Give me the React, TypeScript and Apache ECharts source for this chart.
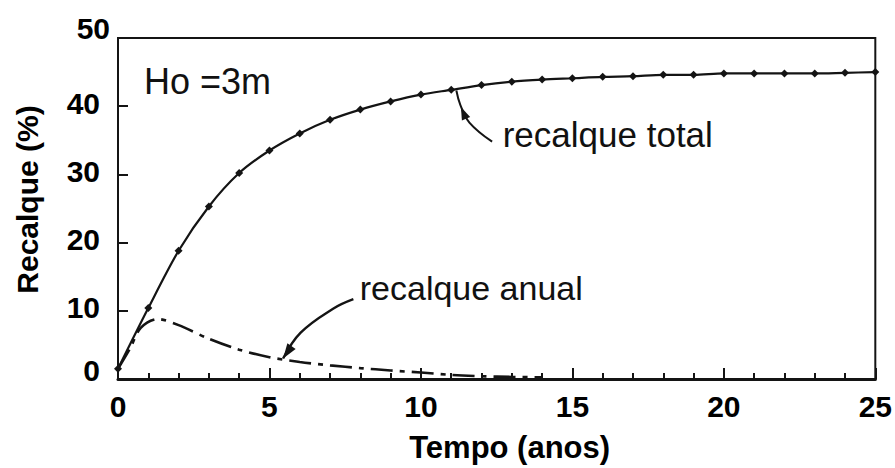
import React, { useEffect, useRef } from "react";
import * as echarts from "echarts";

// Settlement curves for Ho = 3 m
const years = [0, 1, 2, 3, 4, 5, 6, 7, 8, 9, 10, 11, 12, 13, 14, 15, 16, 17, 18, 19, 20, 21, 22, 23, 24, 25];
const recalqueTotal = [1.5, 10.4, 18.8, 25.3, 30.2, 33.5, 36, 38, 39.5, 40.7, 41.7, 42.4, 43.1, 43.6, 43.9, 44.1, 44.3, 44.4, 44.6, 44.6, 44.8, 44.8, 44.8, 44.8, 44.9, 45];

const anualYears = [0, 0.4, 0.75, 1.3, 2, 3, 4, 5, 6, 7, 8, 9, 10, 11, 12, 13, 14];
const recalqueAnual = [1.5, 4.5, 7.5, 8.8, 7.9, 5.9, 4.3, 3.2, 2.5, 2.0, 1.6, 1.25, 0.95, 0.6, 0.4, 0.3, 0.25];

const xMin = 0, xMax = 25, xStep = 5;
const yMin = 0, yMax = 50, yStep = 10;

// Callout leader lines (data coordinates), ending at the curves
const totalLeader = [[12.35, 34.8], [11.6, 37.6], [11.3, 40.2], [11.17, 42.3]];
const anualLeader = [[7.77, 11.7], [7.1, 10.3], [6.03, 6.8], [5.45, 3.0]];

const INK = "#141414";
const FONT = "'Liberation Sans', Arial, Helvetica, sans-serif";

export default function App() {
  const ref = useRef<HTMLDivElement>(null);

  useEffect(() => {
    if (!ref.current) return;
    const chart = echarts.init(ref.current, null, { renderer: "svg" });

    chart.setOption({
      animation: false,
      backgroundColor: "#ffffff",
      grid: {
        left: 118,
        right: 19,
        top: 38,
        bottom: 84,
        show: true,
        borderColor: INK,
        borderWidth: 2,
        backgroundColor: "#ffffff",
      },
      xAxis: {
        type: "value",
        min: xMin,
        max: xMax,
        interval: xStep,
        name: "Tempo (anos)",
        nameLocation: "middle",
        nameGap: 53,
        nameTextStyle: {
          fontFamily: FONT,
          fontSize: 31,
          fontWeight: "bold",
          color: "#000",
          padding: [0, 0, 0, 26],
        },
        axisLine: { show: true, lineStyle: { color: INK, width: 3 } },
        axisTick: { show: true, inside: true, length: 11, lineStyle: { color: INK, width: 2 } },
        minorTick: { show: true, splitNumber: 5, length: 6, lineStyle: { color: INK, width: 2 } },
        splitLine: { show: false },
        axisLabel: {
          fontFamily: FONT,
          fontSize: 30,
          fontWeight: "bold",
          color: "#000",
          margin: 12,
        },
      },
      yAxis: {
        type: "value",
        min: yMin,
        max: yMax,
        interval: yStep,
        name: "Recalque (%)",
        nameLocation: "middle",
        nameGap: 76,
        nameTextStyle: {
          fontFamily: FONT,
          fontSize: 30,
          fontWeight: "bold",
          color: "#000",
          padding: [0, 0, 0, 18],
        },
        axisLine: { show: true, lineStyle: { color: INK, width: 2 } },
        axisTick: { show: true, inside: true, length: 10, lineStyle: { color: INK, width: 2 } },
        splitLine: { show: false },
        axisLabel: {
          margin: 8,
          formatter: (v: number) =>
            v === yMax ? `{top|${v}}` : v === yMin ? `{bot|${v}}` : `{n|${v}}`,
          rich: {
            n: { fontFamily: FONT, fontSize: 30, fontWeight: "bold", color: "#000", padding: [0, 10, 6, 0] },
            top: { fontFamily: FONT, fontSize: 30, fontWeight: "bold", color: "#000", padding: [0, 0, 20, 0] },
            bot: { fontFamily: FONT, fontSize: 30, fontWeight: "bold", color: "#000", padding: [0, 10, 18, 0] },
          },
        },
      },
      series: [
        {
          name: "recalque total",
          type: "line",
          data: years.map((t, i) => [t, recalqueTotal[i]]),
          smooth: 0.3,
          symbol: "diamond",
          symbolSize: 8,
          showSymbol: true,
          itemStyle: { color: INK },
          lineStyle: { color: INK, width: 2.2 },
          z: 3,
        },
        {
          name: "recalque anual",
          type: "line",
          data: anualYears.map((t, i) => [t, recalqueAnual[i]]),
          smooth: 0.3,
          showSymbol: false,
          lineStyle: { color: INK, width: 2.6, type: [22, 7, 5, 7] },
          z: 2,
        },
      ],
    });

    // Annotations placed through the grid's coordinate system
    const px = (p: number[]) => chart.convertToPixel({ gridIndex: 0 }, p) as number[];

    const arrowHead = (tip: number[], from: number[], len = 13, half = 4.5) => {
      const dx = tip[0] - from[0];
      const dy = tip[1] - from[1];
      const d = Math.hypot(dx, dy) || 1;
      const ux = dx / d, uy = dy / d;
      const nx = -uy, ny = ux;
      const bx = tip[0] - ux * len, by = tip[1] - uy * len;
      return {
        type: "polygon",
        shape: { points: [tip, [bx + nx * half, by + ny * half], [bx - nx * half, by - ny * half]] },
        style: { fill: INK },
        silent: true,
      };
    };

    const totalPts = totalLeader.map(px);
    const anualPts = anualLeader.map(px);
    // arrowhead on the total leader sits part-way along, pointing up to the curve
    const totalHeadTip = px([11.32, 39.9]);
    const totalHeadFrom = px([11.6, 37.0]);
    const anualHeadTip = anualPts[anualPts.length - 1];
    const anualHeadFrom = anualPts[anualPts.length - 2];

    const hoPos = px([0.86, 43.6]);
    const totalLabelPos = px([12.7, 35.8]);
    const anualLabelPos = px([7.98, 13.3]);

    chart.setOption({
      graphic: [
        {
          type: "polyline",
          shape: { points: totalPts, smooth: 0.4 },
          style: { stroke: INK, lineWidth: 2, fill: null },
          silent: true,
        },
        arrowHead(totalHeadTip, totalHeadFrom),
        {
          type: "polyline",
          shape: { points: anualPts, smooth: 0.4 },
          style: { stroke: INK, lineWidth: 2.4, fill: null },
          silent: true,
        },
        arrowHead(anualHeadTip, anualHeadFrom, 15, 5),
        {
          type: "text",
          x: hoPos[0],
          y: hoPos[1],
          style: {
            text: "Ho =3m",
            fontFamily: FONT,
            fontSize: 36,
            fill: "#111",
            align: "left",
            verticalAlign: "middle",
          },
        },
        {
          type: "text",
          x: totalLabelPos[0],
          y: totalLabelPos[1],
          style: {
            text: "recalque total",
            fontFamily: FONT,
            fontSize: 35,
            fill: "#111",
            align: "left",
            verticalAlign: "middle",
          },
        },
        {
          type: "text",
          x: anualLabelPos[0],
          y: anualLabelPos[1],
          style: {
            text: "recalque anual",
            fontFamily: FONT,
            fontSize: 34,
            fill: "#111",
            align: "left",
            verticalAlign: "middle",
          },
        },
      ],
    });

    return () => chart.dispose();
  }, []);

  return <div ref={ref} style={{ width: 895, height: 468, position: "fixed", left: 0, top: 0 }} />;
}
